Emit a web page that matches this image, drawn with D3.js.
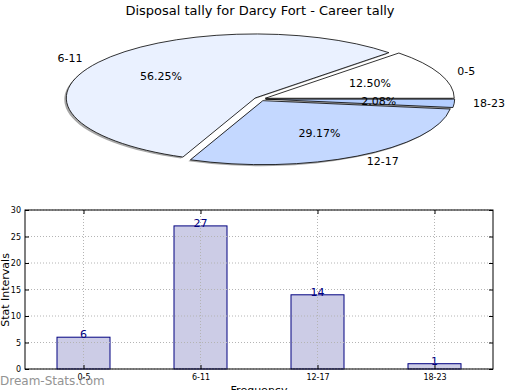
<!DOCTYPE html>
<html><head><meta charset="utf-8">
<script src="https://cdn.jsdelivr.net/npm/d3@7"></script>
<style>body{margin:0;background:#fff}svg{display:block;font-family:"DejaVu Sans",sans-serif}</style>
</head><body>
<svg id="c" width="520" height="390"></svg>
<script>
const title = "Disposal tally for Darcy Fort - Career tally";
const categories = ["0-5", "6-11", "12-17", "18-23"];
const counts = [6, 27, 14, 1];
const pieColors = ["#ffffff", "#eaf1ff", "#c4d8ff", "#b4ceff"];
const yTicks = [0, 5, 10, 15, 20, 25, 30];
const xLabel = "Frequency";
const yLabel = "Stat Intervals";
const watermark = "Dream-Stats.com";

const svg = d3.select("#c");
svg.append("text").attr("x", 260).attr("y", 15).attr("text-anchor", "middle")
  .attr("font-size", 13).text(title);

// ---- Pie ----
const cx = 260, cy = 99, rx = 189, ry = 64, explode = 0.03;
const total = d3.sum(counts);
const pie = d3.pie().sort(null).startAngle(Math.PI / 2).endAngle(Math.PI / 2 - 2 * Math.PI);
const arcs = pie(counts);
const arcGen = d3.arc().innerRadius(0).outerRadius(1);
function off(d) {
  const a = (d.startAngle + d.endAngle) / 2;
  return [Math.sin(a) * explode * rx, -Math.cos(a) * explode * ry];
}
const pg = svg.append("g");
// shadows
arcs.forEach(d => {
  const [ox, oy] = off(d);
  pg.append("path").attr("d", arcGen(d))
    .attr("transform", `translate(${cx + ox - 2},${cy + oy + 1.5}) scale(${rx},${ry})`)
    .attr("fill", "#8a8a8a").attr("opacity", 0.75);
});
arcs.forEach((d, i) => {
  const [ox, oy] = off(d);
  pg.append("path").attr("d", arcGen(d))
    .attr("transform", `translate(${cx + ox},${cy + oy}) scale(${rx},${ry})`)
    .attr("fill", pieColors[i]).attr("stroke", "#000").attr("stroke-width", 0.8)
    .attr("vector-effect", "non-scaling-stroke").attr("stroke-linejoin", "miter");
});
arcs.forEach((d, i) => {
  const [ox, oy] = off(d);
  const a = (d.startAngle + d.endAngle) / 2;
  const sx = Math.sin(a), sy = -Math.cos(a);
  pg.append("text")
    .attr("x", cx + ox + 1.1 * rx * sx).attr("y", cy + oy + 1.1 * ry * sy)
    .attr("text-anchor", sx > 0 ? "start" : "end").attr("dominant-baseline", "central")
    .attr("font-size", 11).text(categories[i]);
  pg.append("text")
    .attr("x", cx + ox + 0.6 * rx * sx).attr("y", cy + oy + 0.6 * ry * sy)
    .attr("text-anchor", "middle").attr("dominant-baseline", "central")
    .attr("font-size", 11).text((100 * d.value / total).toFixed(2) + "%");
});

// ---- Bars ----
const L = 25, R = 493, T = 210, B = 369;
const x = d3.scalePoint().domain(categories).range([L, R]).padding(0.5);
const y = d3.scaleLinear().domain([0, 30]).range([B, T]);
const bw = 53;
const bg = svg.append("g");
bg.selectAll("rect.bar").data(counts).join("rect").attr("class", "bar")
  .attr("x", (d, i) => x(categories[i]) - bw / 2).attr("width", bw)
  .attr("y", d => y(d)).attr("height", d => B - y(d))
  .attr("fill", "#ccccE6").attr("stroke", "#000080").attr("stroke-width", 1);
// grid (drawn over bars)
bg.selectAll(".vg").data(categories).join("line")
  .attr("x1", d => x(d)).attr("x2", d => x(d)).attr("y1", T).attr("y2", B)
  .attr("stroke", "#b4b4b4").attr("stroke-width", 1).attr("stroke-dasharray", "1,2");
bg.selectAll(".hg").data(yTicks).join("line")
  .attr("x1", L).attr("x2", R).attr("y1", d => y(d)).attr("y2", d => y(d))
  .attr("stroke", "#b4b4b4").attr("stroke-width", 1).attr("stroke-dasharray", "1,2");
bg.selectAll("text.val").data(counts).join("text").attr("class", "val")
  .attr("x", (d, i) => x(categories[i])).attr("y", d => y(d) + 1)
  .attr("text-anchor", "middle").attr("font-size", 11).attr("fill", "#000080").text(d => d);
// frame
bg.append("rect").attr("x", L).attr("y", T).attr("width", R - L).attr("height", B - T)
  .attr("fill", "none").attr("stroke", "#000").attr("stroke-width", 1);
// axes
const yAxis = d3.axisLeft(y).tickValues(yTicks).tickSizeInner(-4).tickSizeOuter(0).tickPadding(4);
const ga = bg.append("g").attr("transform", `translate(${L},0)`).call(yAxis);
ga.select(".domain").remove();
ga.selectAll("text").attr("font-size", 8).attr("font-family", "DejaVu Sans");
const yAxisR = d3.axisRight(y).tickValues(yTicks).tickSizeInner(-4).tickSizeOuter(0).tickFormat("");
const gr = bg.append("g").attr("transform", `translate(${R},0)`).call(yAxisR);
gr.select(".domain").remove();
const xAxis = d3.axisBottom(x).tickSizeInner(-4).tickSizeOuter(0).tickPadding(5);
const gx = bg.append("g").attr("transform", `translate(0,${B})`).call(xAxis);
gx.select(".domain").remove();
gx.selectAll("text").attr("font-size", 8).attr("font-family", "DejaVu Sans");
const xAxisT = d3.axisTop(x).tickSizeInner(-4).tickSizeOuter(0).tickFormat("");
const gt = bg.append("g").attr("transform", `translate(0,${T})`).call(xAxisT);
gt.select(".domain").remove();

svg.append("text").attr("x", 259).attr("y", 394).attr("text-anchor", "middle")
  .attr("font-size", 11).text(xLabel);
svg.append("text").attr("transform", "translate(9,290) rotate(-90)").attr("text-anchor", "middle")
  .attr("font-size", 11).text(yLabel);
svg.append("text").attr("x", 0).attr("y", 385).attr("font-size", 12)
  .attr("fill", "#888").attr("opacity", 0.9).text(watermark);
</script>
</body></html>
